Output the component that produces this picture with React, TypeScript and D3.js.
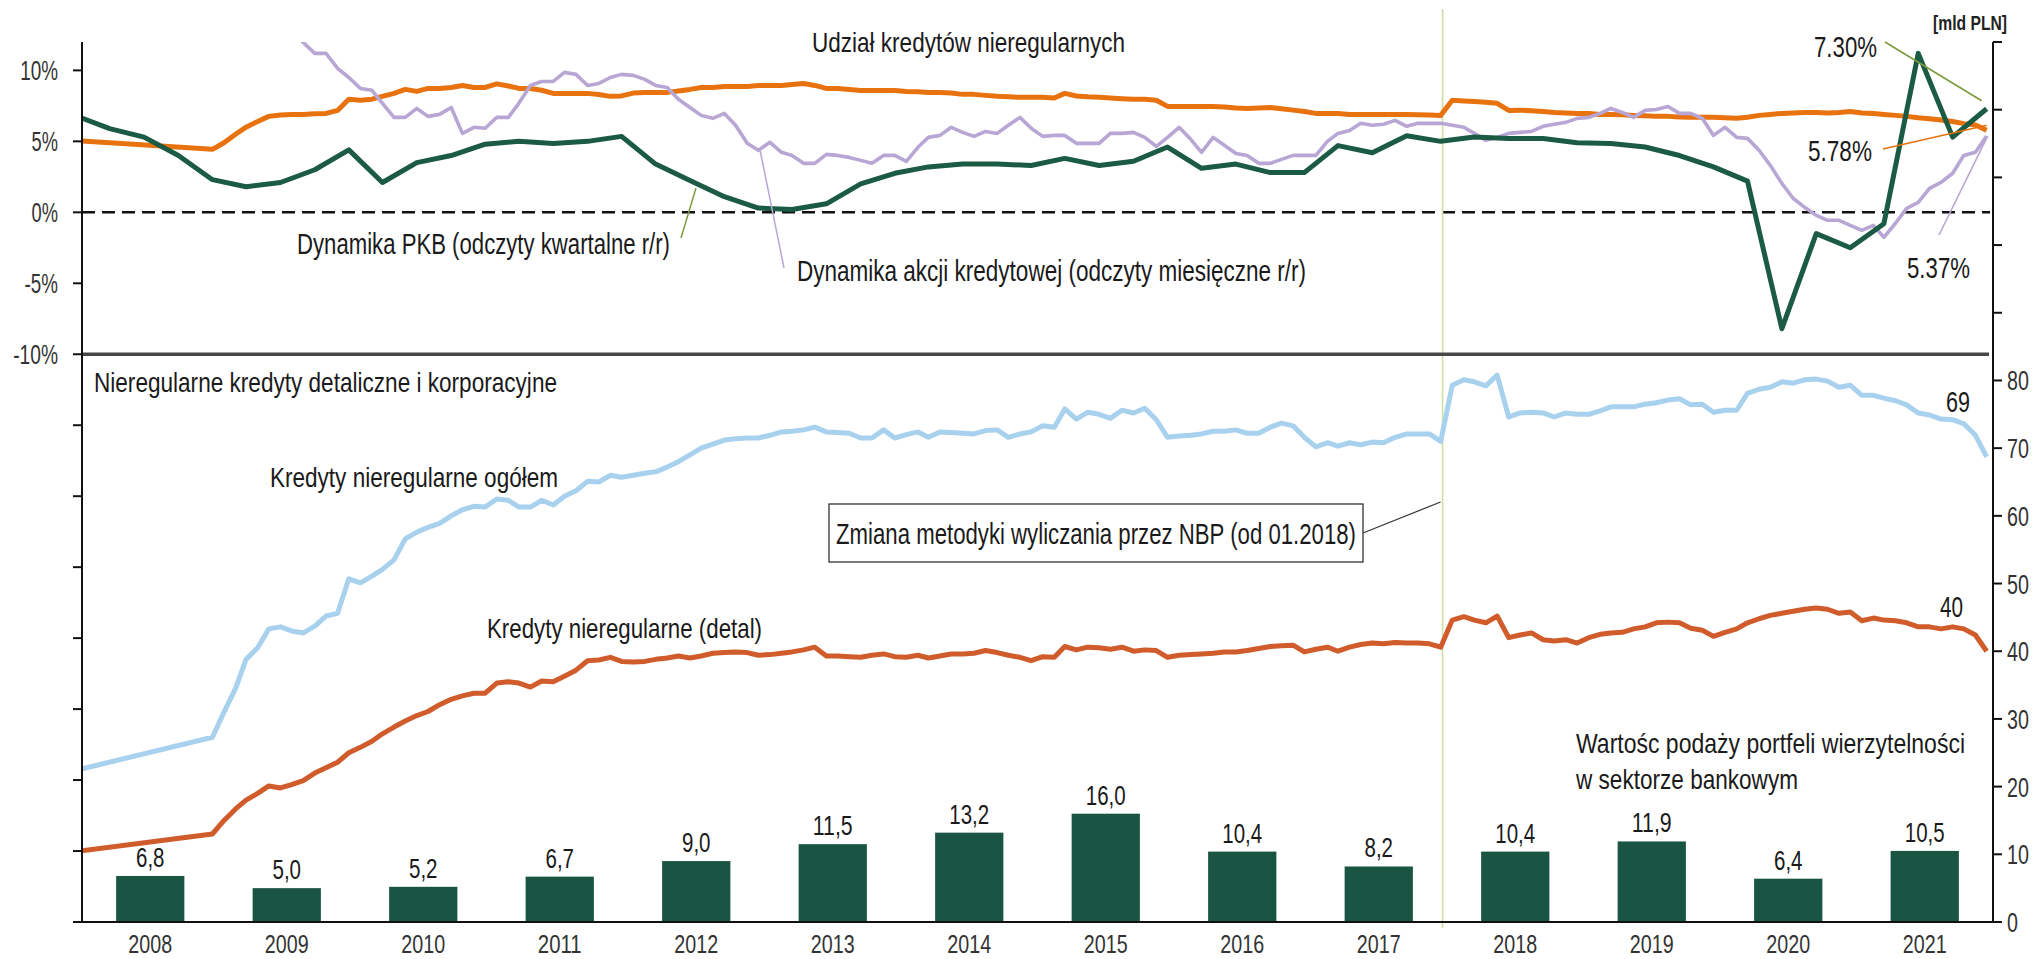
import React from 'react';
import * as d3 from 'd3';

// ---------------- DATA ----------------
const YEARS = ['2008', '2009', '2010', '2011', '2012', '2013', '2014', '2015', '2016', '2017', '2018', '2019', '2020', '2021'];
// Wartość podaży portfeli wierzytelności [mld PLN]
const BAR_VALUES = [6.8, 5.0, 5.2, 6.7, 9.0, 11.5, 13.2, 16.0, 10.4, 8.2, 10.4, 11.9, 6.4, 10.5];

const LEFT_TICK_LABELS = [10, 5, 0, -5, -10];
const RIGHT_TICK_LABELS = [0, 10, 20, 30, 40, 50, 60, 70, 80];

// Dynamika PKB r/r, quarterly, from 2007Q4 to 2021Q4
const GDP_START = { year: 2007, month: 11 };
const GDP = [6.8, 5.9, 5.3, 4.0, 2.3, 1.8, 2.1, 3.0, 4.4, 2.1, 3.5, 4.0, 4.8, 5.0, 4.85, 5.0, 5.35, 3.4, 2.25, 1.1,
  0.3, 0.2, 0.6, 2.0, 2.75, 3.2, 3.4, 3.4, 3.3, 3.8, 3.3, 3.6, 4.6, 3.1, 3.4, 2.8, 2.8, 4.7, 4.2, 5.4,
  5.0, 5.3, 5.2, 5.2, 4.9, 4.85, 4.6, 4.0, 3.2, 2.2, -8.2, -1.5, -2.5, -0.8, 11.2, 5.3, 7.3];

// Udział kredytów nieregularnych [%], monthly from 12.2007 (2008 only year-end reading)
const SHARE_START = { year: 2007, month: 11 };
const SHARE_NPL = [
  5.05,
  null, null, null, null, null, null, null, null, null, null, null, 4.44,
  4.9, 5.5, 6.0, 6.4, 6.76, 6.85, 6.9, 6.9, 6.95, 6.97, 7.18, 7.96,
  7.9, 7.97, 8.17, 8.38, 8.66, 8.52, 8.73, 8.73, 8.8, 8.94, 8.8, 8.8,
  9.05, 8.9, 8.73, 8.73, 8.6, 8.38, 8.38, 8.38, 8.38, 8.3, 8.17, 8.2,
  8.4, 8.45, 8.45, 8.45, 8.55, 8.66, 8.8, 8.8, 8.87, 8.87, 8.87, 8.94,
  8.94, 8.94, 9.0, 9.08, 8.94, 8.73, 8.73, 8.66, 8.59, 8.59, 8.59, 8.59,
  8.52, 8.5, 8.45, 8.45, 8.4, 8.31, 8.31, 8.24, 8.17, 8.14, 8.1, 8.1,
  8.1, 8.05, 8.38, 8.2, 8.14, 8.1, 8.05, 8.0, 7.96, 7.96, 7.9, 7.46,
  7.46, 7.46, 7.46, 7.46, 7.42, 7.35, 7.32, 7.35, 7.39, 7.3, 7.2, 7.1,
  6.97, 6.97, 6.97, 6.9, 6.9, 6.9, 6.9, 6.9, 6.9, 6.87, 6.85, 6.83,
  7.89, 7.85, 7.8, 7.75, 7.68, 7.18, 7.2, 7.15, 7.11, 7.04, 7.0, 6.97,
  6.97, 6.9, 6.9, 6.87, 6.83, 6.8, 6.76, 6.76, 6.72, 6.7, 6.69, 6.69,
  6.66, 6.62, 6.7, 6.83, 6.9, 6.97, 7.0, 7.04, 7.04, 7.0, 7.04, 7.11,
  7.0, 6.97, 6.9, 6.83, 6.76, 6.66, 6.6, 6.5, 6.4, 6.25, 6.15, 5.78,
];

// Dynamika akcji kredytowej r/r [%], monthly from 07.2009
const CREDIT_START = { year: 2009, month: 6 };
const CREDIT_GROWTH = [
  13.0, 11.97, 11.2, 11.2, 10.14, 9.5,
  8.73, 8.6, 7.68, 6.69, 6.69, 7.32, 6.76, 6.9, 7.39, 5.56, 5.99, 5.92,
  6.69, 6.69, 7.68, 8.94, 9.22, 9.22, 9.86, 9.72, 8.94, 9.08, 9.5, 9.72,
  9.65, 9.37, 8.94, 8.8, 7.96, 7.39, 6.83, 6.62, 6.97, 6.13, 4.86, 4.37,
  4.93, 4.23, 4.01, 3.45, 3.45, 4.08, 4.01, 3.87, 3.66, 3.45, 4.01, 4.01,
  3.59, 4.58, 5.28, 5.42, 5.99, 5.63, 5.35, 5.7, 5.56, 6.13, 6.69, 5.92,
  5.35, 5.42, 5.42, 4.86, 4.86, 4.86, 5.56, 5.56, 5.63, 5.28, 4.65, 5.28,
  5.99, 5.14, 4.23, 5.28, 4.72, 4.15, 4.01, 3.45, 3.45, 3.73, 4.01, 4.01,
  4.01, 5.0, 5.56, 5.77, 6.27, 6.13, 6.2, 6.48, 6.06, 6.27, 6.27, 6.27,
  6.13, 5.99, 5.56, 5.07, 5.28, 5.56, 5.63, 5.7, 6.06, 6.2, 6.34, 6.62,
  6.69, 6.97, 7.32, 7.04, 6.69, 7.18, 7.25, 7.46, 6.97, 6.97, 6.62, 5.42,
  5.99, 5.28, 5.21, 4.37, 3.31, 2.04, 0.99, 0.35, -0.21, -0.56, -0.56, -0.92,
  -1.27, -0.92, -1.76, -0.77, 0.28, 0.7, 1.69, 2.11, 2.75, 4.01, 4.23, 5.37,
];

// Kredyty nieregularne ogółem [mld PLN], monthly from 12.2007
const TOTAL_START = { year: 2007, month: 11 };
const NPL_TOTAL = [
  22.4,
  null, null, null, null, null, null, null, null, null, null, null, 27.3,
  31.0, 34.5, 38.8, 40.5, 43.3, 43.6, 43.0, 42.7, 43.7, 45.2, 45.6, 50.7,
  50.1, 51.1, 52.1, 53.5, 56.6, 57.6, 58.3, 58.9, 60.0, 60.9, 61.4, 61.3,
  62.5, 62.3, 61.3, 61.3, 62.3, 61.6, 62.9, 63.7, 65.1, 65.0, 66.0, 65.7,
  66.0, 66.3, 66.5, 67.2, 68.0, 69.0, 70.0, 70.6, 71.2, 71.4, 71.5, 71.5,
  71.9, 72.4, 72.5, 72.7, 73.1, 72.4, 72.3, 72.2, 71.5, 71.5, 72.7, 71.5,
  72.0, 72.4, 71.6, 72.4, 72.3, 72.2, 72.1, 72.6, 72.7, 71.6, 72.1, 72.4,
  73.3, 73.1, 75.8, 74.3, 75.3, 75.0, 74.4, 75.6, 75.2, 75.9, 74.2, 71.6,
  71.8, 71.9, 72.1, 72.5, 72.5, 72.7, 72.2, 72.2, 73.1, 73.7, 73.3, 71.6,
  70.2, 70.8, 70.3, 70.8, 70.5, 70.9, 70.8, 71.6, 72.1, 72.1, 72.1, 71.0,
  79.3, 80.1, 79.8, 79.2, 80.8, 74.6, 75.2, 75.3, 75.2, 74.6, 75.2, 75.0,
  75.0, 75.5, 76.1, 76.1, 76.1, 76.5, 76.7, 77.1, 77.3, 76.4, 76.5, 75.3,
  75.6, 75.6, 78.1, 78.7, 79.0, 79.8, 79.6, 80.1, 80.2, 79.9, 79.0, 79.3,
  77.8, 77.8, 77.4, 77.0, 76.4, 75.2, 74.9, 74.3, 74.2, 73.6, 71.9, 68.7,
];

// Kredyty nieregularne (detal) [mld PLN], monthly from 12.2007
const RETAIL_START = { year: 2007, month: 11 };
const NPL_RETAIL = [
  10.4,
  null, null, null, null, null, null, null, null, null, null, null, 13.0,
  15.0, 16.7, 18.0, 19.0, 20.1, 19.8, 20.3, 20.9, 22.0, 22.8, 23.6, 25.0,
  25.8, 26.7, 27.8, 28.8, 29.7, 30.5, 31.1, 32.1, 32.9, 33.4, 33.8, 33.8,
  35.3, 35.5, 35.3, 34.7, 35.6, 35.5, 36.3, 37.2, 38.6, 38.7, 39.1, 38.5,
  38.4, 38.5, 38.8, 39.0, 39.3, 39.0, 39.3, 39.7, 39.8, 39.9, 39.8, 39.4,
  39.5, 39.7, 39.9, 40.2, 40.6, 39.3, 39.3, 39.2, 39.1, 39.4, 39.6, 39.2,
  39.1, 39.4, 39.0, 39.3, 39.6, 39.6, 39.7, 40.1, 39.8, 39.4, 39.1, 38.6,
  39.2, 39.1, 40.7, 40.2, 40.6, 40.5, 40.3, 40.6, 40.0, 40.2, 40.1, 39.1,
  39.4, 39.5, 39.6, 39.7, 39.9, 39.9, 40.1, 40.4, 40.7, 40.8, 40.9, 39.9,
  40.3, 40.6, 40.0, 40.6, 41.0, 41.2, 41.1, 41.3, 41.2, 41.2, 41.1, 40.6,
  44.6, 45.1, 44.6, 44.2, 45.2, 42.0, 42.4, 42.7, 41.7, 41.5, 41.7, 41.2,
  42.0, 42.5, 42.7, 42.8, 43.3, 43.6, 44.2, 44.3, 44.2, 43.4, 43.1, 42.2,
  42.8, 43.3, 44.2, 44.8, 45.3, 45.6, 45.9, 46.2, 46.4, 46.2, 45.6, 45.8,
  44.5, 44.9, 44.6, 44.5, 44.2, 43.6, 43.6, 43.3, 43.6, 43.3, 42.4, 40.0,
];

const METHOD_CHANGE_DATE = new Date(2017, 11, 20);

// ---------------- HELPERS ----------------
type Pt = { date: Date; value: number };
function monthly(values: (number | null)[], start: { year: number; month: number }): Pt[] {
  const out: Pt[] = [];
  values.forEach((v, i) => {
    if (v !== null && v !== undefined) out.push({ date: new Date(start.year, start.month + i, 15), value: v });
  });
  return out;
}
function quarterly(values: number[], start: { year: number; month: number }): Pt[] {
  return values.map((v, i) => ({ date: new Date(start.year, start.month + 3 * i, 15), value: v }));
}
const fmtComma = (v: number) => v.toFixed(1).replace('.', ',');

// approximate advance widths (em) of the condensed face used in the original
function narrowWidth(s: string, size: number) {
  let w = 0;
  for (const ch of s) {
    if (/[0-9]/.test(ch)) w += 0.456;
    else if (ch === '%') w += 0.6;
    else if (ch === ',' || ch === '.') w += 0.228;
    else if (ch === '-') w += 0.28;
    else w += 0.42;
  }
  return w * size;
}

const FONT = "'Liberation Sans Narrow', 'Liberation Sans', Arial, sans-serif";

type TProps = { x: number; y: number; w?: number; size: number; wsize?: number; anchor?: 'start' | 'middle' | 'end'; fill?: string; weight?: number; children: string };
function T({ x, y, w, size, wsize, anchor = 'start', fill = '#1a1a1a', weight = 400, children }: TProps) {
  const len = w ?? narrowWidth(children, wsize ?? size);
  return (
    <text x={x} y={y} fontSize={size} textAnchor={anchor} fill={fill} fontWeight={weight}
      textLength={len} lengthAdjust="spacingAndGlyphs">{children}</text>
  );
}

export default function App() {
  const W = 2042, H = 959;
  const left = 82, right = 1993, top = 42, bottom = 922;

  const x = d3.scaleTime().domain([new Date(2008, 0, 1), new Date(2022, 0, 1)]).range([left, right]);
  const yL = d3.scaleLinear().domain([-50, 12]).range([bottom, top]);
  const yR = d3.scaleLinear().domain([0, 130]).range([bottom, top]);
  const band = d3.scaleBand<string>().domain(YEARS).range([left, right]).paddingInner(0.5).paddingOuter(0.25);

  const lineL = d3.line<Pt>().x(d => x(d.date)).y(d => yL(d.value));
  const lineR = d3.line<Pt>().x(d => x(d.date)).y(d => yR(d.value));

  const gdp = quarterly(GDP, GDP_START);
  const share = monthly(SHARE_NPL, SHARE_START);
  const credit = monthly(CREDIT_GROWTH, CREDIT_START);
  const total = monthly(NPL_TOTAL, TOTAL_START);
  const retail = monthly(NPL_RETAIL, RETAIL_START);

  const C = {
    gdp: '#1b5a43', share: '#e8720e', credit: '#b8a6d4', total: '#a8d1ee', retail: '#d05b2b',
    bar: '#1a5442', olive: '#7d9a3e', vline: '#cfdf9f', sep: '#474747', text: '#1a1a1a',
  };

  const lastOf = (a: Pt[]) => a[a.length - 1];
  const gL = lastOf(gdp), sL = lastOf(share), cL = lastOf(credit);

  const leftTicks = d3.range(-50, 11, 5);
  const rightTicks = d3.range(0, 131, 10);
  const vx = x(METHOD_CHANGE_DATE);

  return (
    <svg width={W} height={H} style={{ position: 'absolute', left: 0, top: 0, background: '#fff' }}
      fontFamily={FONT}>
      <defs>
        <clipPath id="plot">
          <rect x={left} y={top} width={right - left} height={bottom - top} />
        </clipPath>
      </defs>
      <rect x={0} y={0} width={W} height={H} fill="#fff" />

      {/* bars */}
      {YEARS.map((yr, i) => {
        const bx = band(yr) as number;
        const cx = bx + band.bandwidth() / 2;
        return (
          <g key={yr}>
            <rect x={bx} y={yR(BAR_VALUES[i])} width={band.bandwidth()} height={yR(0) - yR(BAR_VALUES[i])} fill={C.bar} />
            <T x={cx} y={yR(BAR_VALUES[i]) - 9} size={27} wsize={25} anchor="middle">{fmtComma(BAR_VALUES[i])}</T>
            <T x={cx} y={953} size={26} wsize={24} anchor="middle" fill="#333">{yr}</T>
          </g>
        );
      })}

      {/* zero dashed line */}
      <line x1={left} x2={right - 3} y1={yL(0)} y2={yL(0)} stroke="#111" strokeWidth={2.5} strokeDasharray="13,7" />

      {/* methodology change vertical line */}
      <line x1={vx} x2={vx} y1={9} y2={928} stroke={C.vline} strokeWidth={1.6} />

      {/* lines */}
      <g clipPath="url(#plot)" fill="none" strokeLinejoin="round">
        <path d={lineR(total) || ''} stroke={C.total} strokeWidth={5} />
        <path d={lineR(retail) || ''} stroke={C.retail} strokeWidth={5} />
        <path d={lineL(share) || ''} stroke={C.share} strokeWidth={5} />
        <path d={lineL(credit) || ''} stroke={C.credit} strokeWidth={3.6} />
        <path d={lineL(gdp) || ''} stroke={C.gdp} strokeWidth={5} />
      </g>

      {/* separator between panels */}
      <line x1={left} x2={right - 4} y1={yL(-10)} y2={yL(-10)} stroke={C.sep} strokeWidth={3.4} />

      {/* axes */}
      <line x1={left} x2={left} y1={top} y2={bottom} stroke="#111" strokeWidth={2} />
      <line x1={right} x2={right} y1={top} y2={bottom} stroke="#111" strokeWidth={2} />
      <line x1={74} x2={2002} y1={bottom} y2={bottom} stroke="#111" strokeWidth={2.2} />
      {leftTicks.map(t => (
        <line key={'lt' + t} x1={73} x2={left} y1={yL(t)} y2={yL(t)} stroke="#111" strokeWidth={2} />
      ))}
      {LEFT_TICK_LABELS.map(t => (
        <T key={'ll' + t} x={58} y={yL(t) + 10} size={27} wsize={25} anchor="end" fill="#333">{t + '%'}</T>
      ))}
      {rightTicks.map(t => (
        <line key={'rt' + t} x1={right} x2={2002} y1={yR(t)} y2={yR(t)} stroke="#111" strokeWidth={2} />
      ))}
      {RIGHT_TICK_LABELS.map(t => (
        <T key={'rl' + t} x={2007} y={yR(t) + 10} size={27} wsize={24} fill="#333">{String(t)}</T>
      ))}
      <T x={1933} y={30} w={74} size={20} weight={600} fill="#222">[mld PLN]</T>

      {/* annotations upper panel */}
      <T x={812} y={52} w={313} size={28}>Udział kredytów nieregularnych</T>
      <T x={297} y={254} w={373} size={29}>Dynamika PKB (odczyty kwartalne r/r)</T>
      <line x1={681} y1={238} x2={696} y2={188} stroke={C.olive} strokeWidth={1.5} />
      <T x={797} y={281} w={509} size={29}>Dynamika akcji kredytowej (odczyty miesięczne r/r)</T>
      <line x1={784} y1={268} x2={760} y2={150} stroke={C.credit} strokeWidth={1.5} />

      <T x={1814} y={57} w={63} size={30}>{gL.value.toFixed(2) + '%'}</T>
      <line x1={1885} y1={42} x2={x(gL.date) - 5} y2={yL(gL.value) - 8} stroke={C.olive} strokeWidth={1.6} />
      <T x={1808} y={161} w={64} size={30}>{sL.value.toFixed(2) + '%'}</T>
      <line x1={1883} y1={149} x2={x(sL.date)} y2={yL(sL.value) - 5} stroke={C.share} strokeWidth={1.6} />
      <T x={1907} y={278} w={63} size={30}>{cL.value.toFixed(2) + '%'}</T>
      <line x1={1939} y1={235} x2={x(cL.date) + 1} y2={yL(cL.value)} stroke={C.credit} strokeWidth={1.6} />

      {/* annotations lower panel */}
      <T x={94} y={392} w={463} size={28}>Nieregularne kredyty detaliczne i korporacyjne</T>
      <T x={270} y={487} w={288} size={28}>Kredyty nieregularne ogółem</T>
      <T x={487} y={638} w={275} size={28}>Kredyty nieregularne (detal)</T>
      <T x={1946} y={412} w={24} size={30}>{String(Math.round(lastOf(total).value))}</T>
      <T x={1940} y={617} w={23} size={30}>{String(Math.round(lastOf(retail).value))}</T>

      <rect x={829} y={504} width={534} height={58} fill="#fff" stroke="#333" strokeWidth={1.3} />
      <T x={1096} y={544} w={520} size={29} anchor="middle">Zmiana metodyki wyliczania przez NBP (od 01.2018)</T>
      <line x1={1363} y1={533} x2={vx - 2} y2={502} stroke="#333" strokeWidth={1.2} />

      <T x={1576} y={753} w={389} size={28}>Wartośc podaży portfeli wierzytelności</T>
      <T x={1576} y={789} w={222} size={28}>w sektorze bankowym</T>
    </svg>
  );
}
